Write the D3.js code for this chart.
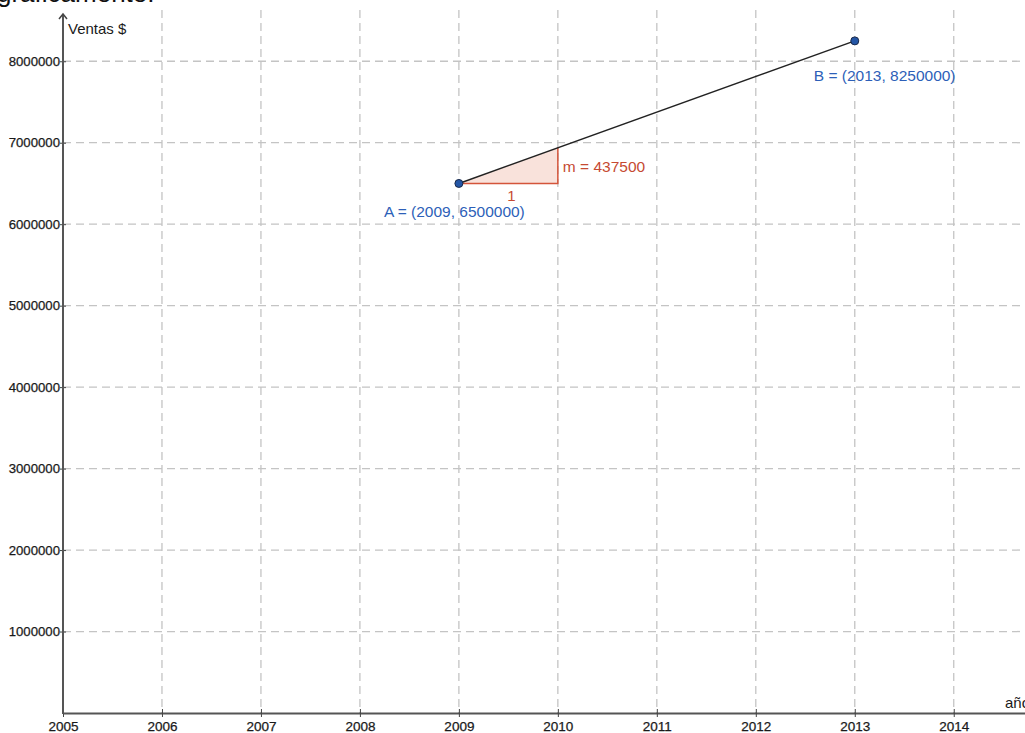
<!DOCTYPE html>
<html>
<head>
<meta charset="utf-8">
<script src="https://cdn.jsdelivr.net/npm/d3@7"></script>
<style>
  body { margin: 0; background: #fff; }
  svg { display: block; font-family: "Liberation Sans", Arial, sans-serif; }
</style>
</head>
<body>
<svg class="grafica" width="1025" height="733"></svg>
<script>
const years = [2005, 2006, 2007, 2008, 2009, 2010, 2011, 2012, 2013, 2014]
const salesTicks = [1000000, 2000000, 3000000, 4000000, 5000000, 6000000, 7000000, 8000000]
const pointNames = ['A', 'B']
const pointYears = [2009, 2013]
const pointSales = [6500000, 8250000]
const slope = 437500

const x = d3.scaleLinear().domain([2005, 2014.72]).range([63, 1025])
const y = d3.scaleLinear().domain([0, 8580000]).range([713, 14])

const svg = d3.select('.grafica')

// texto cortado de la página de arriba
svg.append('text')
.attr('x', -3)
.attr('y', 2)
.attr('font-size', 26)
.attr('fill', '#111')
.text('gráficamente:')

// cuadrícula
svg.append('g')
.selectAll('line')
.data(years.slice(1))
.enter()
.append('line')
.attr('x1', d => x(d))
.attr('x2', d => x(d))
.attr('y1', y.range()[1] - 4)
.attr('y2', y(0))
.attr('stroke', '#c4c4c4')
.attr('stroke-width', 1.3)
.attr('stroke-dasharray', '8,5')

svg.append('g')
.selectAll('line')
.data(salesTicks)
.enter()
.append('line')
.attr('x1', x(2005))
.attr('x2', 1025)
.attr('y1', d => y(d))
.attr('y2', d => y(d))
.attr('stroke', '#c4c4c4')
.attr('stroke-width', 1.3)
.attr('stroke-dasharray', '8,5')

// ejes
const xAxis = svg.append('g')
.attr('transform', `translate(0,${y(0)})`)
.call(d3.axisBottom(x).tickValues(years).tickFormat(d3.format('d')).tickSize(4).tickSizeOuter(0))
xAxis.select('.domain').attr('stroke', '#555').attr('stroke-width', 2)
xAxis.selectAll('.tick line').attr('stroke', '#444').attr('y1', -4)
xAxis.selectAll('.tick text')
.attr('y', 8)
.attr('font-size', 13.5)
.attr('font-family', '"Liberation Sans", Arial, sans-serif')
.attr('fill', '#1a1a1a')
.attr('stroke', '#1a1a1a')
.attr('stroke-width', 0.25)

const yAxis = svg.append('g')
.attr('transform', `translate(${x(2005)},0)`)
.call(d3.axisLeft(y).tickValues(salesTicks).tickFormat(d3.format('d')).tickSize(4).tickSizeOuter(0))
yAxis.select('.domain').remove()
yAxis.selectAll('.tick line').attr('stroke', '#444').attr('x2', 3).attr('x1', -3)
yAxis.selectAll('.tick text')
.attr('x', -3)
.attr('font-size', 13.2)
.attr('font-family', '"Liberation Sans", Arial, sans-serif')
.attr('fill', '#1a1a1a')
.attr('stroke', '#1a1a1a')
.attr('stroke-width', 0.25)

svg.append('line')
.attr('x1', x(2005))
.attr('x2', x(2005))
.attr('y1', y(0) + 1)
.attr('y2', y.range()[1])
.attr('stroke', '#555')
.attr('stroke-width', 2)

svg.append('path')
.attr('d', `M${x(2005) - 4},${y.range()[1] + 5} L${x(2005)},${y.range()[1]} L${x(2005) + 4},${y.range()[1] + 5}`)
.attr('fill', 'none')
.attr('stroke', '#444')
.attr('stroke-width', 1.5)

svg.append('text')
.attr('x', x(2005) + 5)
.attr('y', 34)
.attr('font-size', 15)
.attr('fill', '#1a1a1a')
.text('Ventas $')

svg.append('text')
.attr('x', 1005)
.attr('y', 708)
.attr('font-size', 15)
.attr('fill', '#1a1a1a')
.text('año')

// triángulo de la pendiente
const x0 = pointYears[0]
const y0 = pointSales[0]
svg.append('path')
.attr('d', `M${x(x0)},${y(y0)} L${x(x0 + 1)},${y(y0)} L${x(x0 + 1)},${y(y0 + slope)} Z`)
.attr('fill', 'rgba(230, 140, 110, 0.25)')
.attr('stroke', 'none')

svg.append('path')
.attr('d', `M${x(x0)},${y(y0)} L${x(x0 + 1)},${y(y0)} L${x(x0 + 1)},${y(y0 + slope)}`)
.attr('fill', 'none')
.attr('stroke', '#d4543a')
.attr('stroke-width', 1.5)

svg.append('text')
.attr('x', x(x0 + 1) + 5)
.attr('y', y(y0 + slope / 2) + 6)
.attr('font-size', 15.5)
.attr('fill', '#c64a32')
.text(`m = ${slope}`)

svg.append('text')
.attr('x', x(x0 + 0.5) + 3)
.attr('y', y(y0) + 18)
.attr('text-anchor', 'middle')
.attr('font-size', 15)
.attr('fill', '#c64a32')
.text('1')

// recta AB
svg.append('line')
.attr('x1', x(pointYears[0]))
.attr('y1', y(pointSales[0]))
.attr('x2', x(pointYears[1]))
.attr('y2', y(pointSales[1]))
.attr('stroke', '#222')
.attr('stroke-width', 1.5)

// puntos
svg.append('g')
.selectAll('circle')
.data(pointYears)
.enter()
.append('circle')
.attr('cx', d => x(d))
.attr('cy', (d, i) => y(pointSales[i]))
.attr('r', 4)
.attr('fill', '#2456a6')
.attr('stroke', '#1a2a4a')
.attr('stroke-width', 1)

const labelOffsets = [[-75, 34], [-41, 40]]
svg.append('g')
.selectAll('text')
.data(pointYears)
.enter()
.append('text')
.attr('x', (d, i) => x(d) + labelOffsets[i][0])
.attr('y', (d, i) => y(pointSales[i]) + labelOffsets[i][1])
.attr('font-size', 15.5)
.attr('fill', '#2d5fb8')
.text((d, i) => `${pointNames[i]} = (${d}, ${pointSales[i]})`)
</script>
</body>
</html>
